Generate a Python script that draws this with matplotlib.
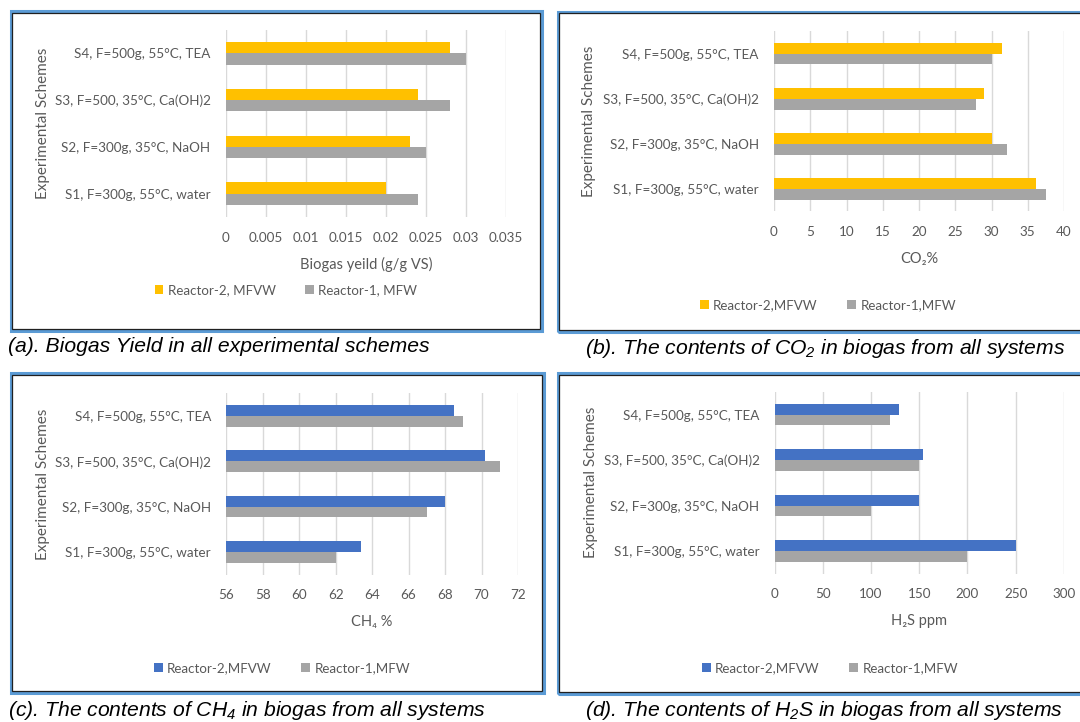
import numpy as np
import matplotlib.pyplot as plt
from matplotlib.patches import Rectangle

plt.rcParams['font.family'] = ['Lato', 'DejaVu Sans']
plt.rcParams['mathtext.fontset'] = 'custom'
plt.rcParams['mathtext.rm'] = 'Liberation Sans:italic'
plt.rcParams['mathtext.it'] = 'Liberation Sans:italic'

# data (S1 .. S4)
schemes = ['S1, F=300g, 55°C, water', 'S2, F=300g, 35°C, NaOH',
           'S3, F=500, 35°C, Ca(OH)2', 'S4, F=500g, 55°C, TEA']

yield_r2 = [0.020, 0.023, 0.024, 0.028]
yield_r1 = [0.024, 0.025, 0.028, 0.030]
co2_r2 = [36.2, 30.0, 29.0, 31.5]
co2_r1 = [37.5, 32.1, 27.9, 30.0]
ch4_r2 = [63.4, 68.0, 70.2, 68.5]
ch4_r1 = [62.0, 67.0, 71.0, 69.0]
h2s_r2 = [250, 150, 154, 129]
h2s_r1 = [200, 100, 150, 120]

yield_ticks = ['0', '0.005', '0.01', '0.015', '0.02', '0.025', '0.03', '0.035']
co2_ticks = ['0', '5', '10', '15', '20', '25', '30', '35', '40']
ch4_ticks = ['56', '58', '60', '62', '64', '66', '68', '70', '72']
h2s_ticks = ['0', '50', '100', '150', '200', '250', '300']

W, H = 1080, 722
YELLOW = '#FFC000'
GRAY = '#A5A5A5'
BLUE = '#4472C4'
TXT = '#595959'
GRID = '#D9D9D9'

fig = plt.figure(figsize=(W / 100, H / 100), dpi=100)


def border(x0, y0, x1, y1):
    # blue outer frame with dark inner line
    fig.patches.append(Rectangle((x0 / W, 1 - y1 / H), (x1 - x0) / W, (y1 - y0) / H,
                                 transform=fig.transFigure, fill=False,
                                 edgecolor='#5B9BD5', lw=2.2))
    fig.patches.append(Rectangle(((x0 + 1.8) / W, 1 - (y1 - 1.8) / H), (x1 - x0 - 3.6) / W,
                                 (y1 - y0 - 3.6) / H, transform=fig.transFigure,
                                 fill=False, edgecolor='#202020', lw=0.9))


def panel(box, ylab_x, r2, r1, col2, ticks, xlabel, lab2, lab1, leg_xy, cap, cap_xy):
    x0, y0, x1, y1 = box
    ax = fig.add_axes([x0 / W, 1 - y1 / H, (x1 - x0) / W, (y1 - y0) / H])
    y = np.arange(len(schemes))
    tv = [float(t) for t in ticks]
    b2 = ax.barh(y + 0.12, [v - tv[0] for v in r2], height=0.24, left=tv[0], color=col2)
    b1 = ax.barh(y - 0.12, [v - tv[0] for v in r1], height=0.24, left=tv[0], color=GRAY)
    ax.set_xlim(tv[0], tv[-1])
    ax.set_ylim(-0.5, len(schemes) - 0.5)
    ax.set_xticks(tv)
    ax.set_xticklabels(ticks)
    ax.set_yticks(y)
    ax.set_yticklabels(schemes)
    ax.tick_params(length=0, labelsize=9.7, labelcolor=TXT)
    ax.tick_params(axis='x', pad=10.5)
    ax.tick_params(axis='y', pad=11)
    ax.grid(axis='x', color=GRID, lw=1)
    ax.set_axisbelow(True)
    for s in ax.spines.values():
        s.set_visible(False)
    ax.set_xlabel(xlabel, fontsize=10.5, color=TXT)
    ax.xaxis.set_label_coords(0.5, -47.5 / (y1 - y0))
    ax.xaxis.label.set_va('center')
    ax.set_ylabel('Experimental Schemes', fontsize=11, color=TXT)
    ax.yaxis.set_label_coords(-(x0 - ylab_x) / (x1 - x0), 0.5)
    ax.yaxis.label.set_va('center')
    fig.legend([b2, b1], [lab2, lab1], loc='center', ncol=2, frameon=False,
               bbox_to_anchor=(leg_xy[0] / W, 1 - leg_xy[1] / H),
               handlelength=0.65, handleheight=0.65, handletextpad=0.35,
               columnspacing=2.2, fontsize=9.6, labelcolor=TXT)
    fig.text(cap_xy[0] / W, 1 - cap_xy[1] / H, cap, fontsize=15.2, style='italic',
             family=['Liberation Sans', 'DejaVu Sans'], ha='left', va='center')
    return ax


border(10.5, 11.5, 542, 331)
border(557.5, 11.5, 1100, 331.5)
border(10.5, 373, 544, 693)
border(557.5, 373, 1100, 693.5)

panel((225.7, 30, 506, 217), 43.5, yield_r2, yield_r1, YELLOW, yield_ticks,
      'Biogas yeild (g/g VS)', 'Reactor-2, MFVW', 'Reactor-1, MFW', (286, 290),
      '(a). Biogas Yield in all experimental schemes', (8, 347))
panel((774, 31, 1064, 211.5), 589.5, co2_r2, co2_r1, YELLOW, co2_ticks,
      'CO₂%', 'Reactor-2,MFVW', 'Reactor-1,MFW', (828, 305),
      '(b). The contents of CO$_2$ in biogas from all systems', (585, 348))
panel((226.3, 393.4, 518, 574.5), 43.5, ch4_r2, ch4_r1, BLUE, ch4_ticks,
      'CH₄ %', 'Reactor-2,MFVW', 'Reactor-1,MFW', (282, 668),
      '(c). The contents of CH$_4$ in biogas from all systems', (8, 710))
panel((774.7, 391.8, 1063.8, 573.8), 591, h2s_r2, h2s_r1, BLUE, h2s_ticks,
      'H₂S ppm', 'Reactor-2,MFVW', 'Reactor-1,MFW', (830, 668),
      '(d). The contents of H$_2$S in biogas from all systems', (585, 711))

fig.savefig('out.png', dpi=100, facecolor='white')
